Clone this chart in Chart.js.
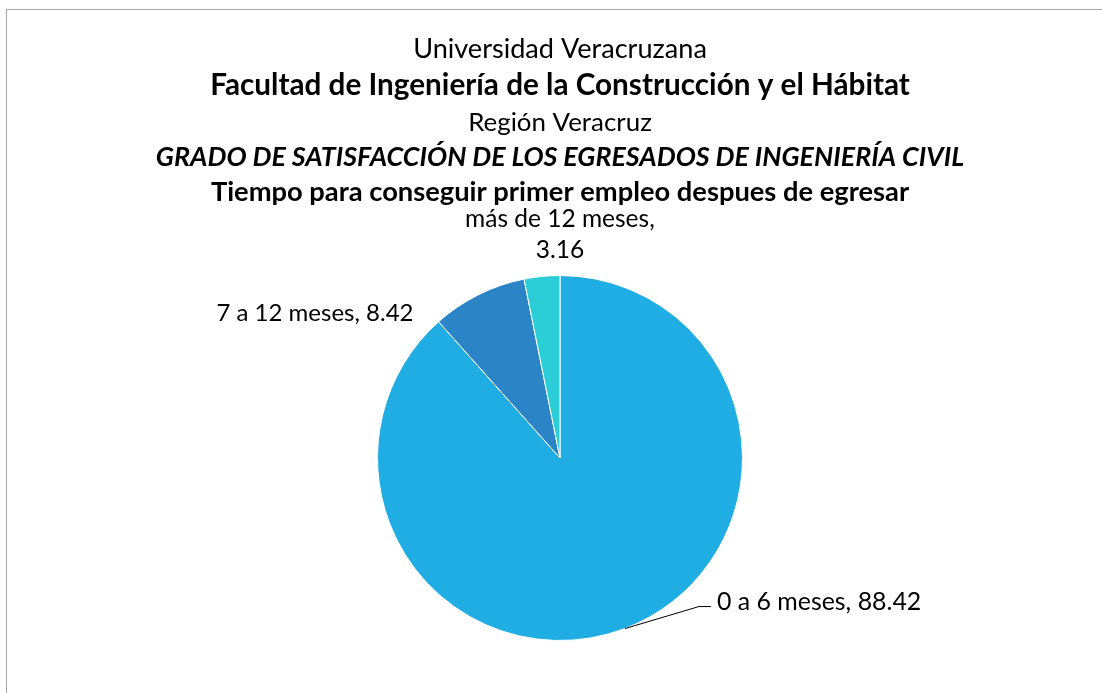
<!DOCTYPE html>
<html lang="es">
<head>
<meta charset="utf-8">
<title>Tiempo para conseguir primer empleo</title>
<script src="https://cdn.jsdelivr.net/npm/chart.js@4.4.1/dist/chart.umd.min.js"></script>
<style>
  html, body { margin: 0; padding: 0; background: #fff; overflow: hidden; }
  #grafico { position: absolute; left: 0; top: 0; }
  #marco { position: absolute; left: 6px; top: 9px; width: 1200px; height: 800px;
           border: 1.5px solid #a6a6a6; box-sizing: border-box; pointer-events: none; }
</style>
</head>
<body>
<canvas id="grafico" width="1102" height="693"></canvas>
<div id="marco"></div>
<script>
const categorias = ['0 a 6 meses', '7 a 12 meses', 'más de 12 meses'];
const porcentajes = [88.42, 8.42, 3.16];
const colores = ['#1FADE3', '#2A84C6', '#2BCDD7'];

const FUENTE = 'Lato';

// cada linea del titulo: estilo, ancho que ocupa y linea base
const lineasTitulo = [
  { texto: 'Universidad Veracruzana', estilo: '', ancho: 294, y: 58 },
  { texto: 'Facultad de Ingeniería de la Construcción y el Hábitat', estilo: 'bold', ancho: 700, y: 95 },
  { texto: 'Región Veracruz', estilo: '', ancho: 184, y: 131 },
  { texto: 'GRADO DE SATISFACCIÓN DE LOS EGRESADOS DE INGENIERÍA CIVIL', estilo: 'italic bold', ancho: 808, y: 166 },
  { texto: 'Tiempo para conseguir primer empleo despues de egresar', estilo: 'bold', ancho: 698, y: 201 }
];

// desplazamiento de cada etiqueta respecto al punto medio del borde del sector
const etiquetas = [
  { dx: 92, dy: -19, align: 'left', ancho: 204, guia: [[74, -22], [86, -22]] },
  { dx: -65, dy: 26, align: 'right', ancho: 197 },
  { dx: 18, dy: -49, align: 'center', ancho: 190, dosLineas: true, interlineado: 31 }
];

function fuenteAjustada(ctx, texto, estilo, ancho) {
  ctx.font = `${estilo} 100px ${FUENTE}`;
  const tam = 100 * ancho / ctx.measureText(texto).width;
  return `${estilo} ${tam.toFixed(1)}px ${FUENTE}`;
}

const tituloPlugin = {
  id: 'tituloMultilinea',
  afterDraw(chart) {
    const ctx = chart.ctx;
    ctx.save();
    ctx.fillStyle = '#000';
    ctx.textAlign = 'center';
    ctx.textBaseline = 'alphabetic';
    lineasTitulo.forEach((l) => {
      ctx.font = fuenteAjustada(ctx, l.texto, l.estilo, l.ancho);
      ctx.fillText(l.texto, 560, l.y);
    });
    ctx.restore();
  }
};

const etiquetasPlugin = {
  id: 'etiquetasSectores',
  afterDatasetsDraw(chart) {
    const ctx = chart.ctx;
    const meta = chart.getDatasetMeta(0);
    ctx.save();
    ctx.fillStyle = '#000';
    ctx.strokeStyle = '#000';
    ctx.lineWidth = 1;
    ctx.textBaseline = 'alphabetic';
    meta.data.forEach((arc, i) => {
      const p = arc.getProps(['x', 'y', 'startAngle', 'endAngle', 'outerRadius'], true);
      const medio = (p.startAngle + p.endAngle) / 2;
      const ex = p.x + Math.cos(medio) * p.outerRadius;
      const ey = p.y + Math.sin(medio) * p.outerRadius;
      const e = etiquetas[i];
      const valor = porcentajes[i].toFixed(2);
      if (e.guia) {
        ctx.beginPath();
        ctx.moveTo(ex, ey);
        e.guia.forEach(([gx, gy]) => ctx.lineTo(ex + gx, ey + gy));
        ctx.stroke();
      }
      ctx.textAlign = e.align;
      if (e.dosLineas) {
        const primera = categorias[i] + ',';
        ctx.font = fuenteAjustada(ctx, primera, '', e.ancho);
        ctx.fillText(primera, ex + e.dx, ey + e.dy);
        ctx.fillText(valor, ex + e.dx, ey + e.dy + e.interlineado);
      } else {
        const texto = categorias[i] + ', ' + valor;
        ctx.font = fuenteAjustada(ctx, texto, '', e.ancho);
        ctx.fillText(texto, ex + e.dx, ey + e.dy);
      }
    });
    ctx.restore();
  }
};

new Chart(document.querySelector('#grafico'), {
  type: 'pie',
  data: {
    labels: categorias,
    datasets: [{
      data: porcentajes,
      backgroundColor: colores,
      borderColor: '#fff',
      borderWidth: 1
    }]
  },
  options: {
    responsive: false,
    animation: false,
    layout: { padding: { top: 275, bottom: 52, left: 194, right: 176 } },
    plugins: {
      legend: { display: false },
      tooltip: { enabled: false },
      title: { display: false }
    }
  },
  plugins: [tituloPlugin, etiquetasPlugin]
});
</script>
</body>
</html>
